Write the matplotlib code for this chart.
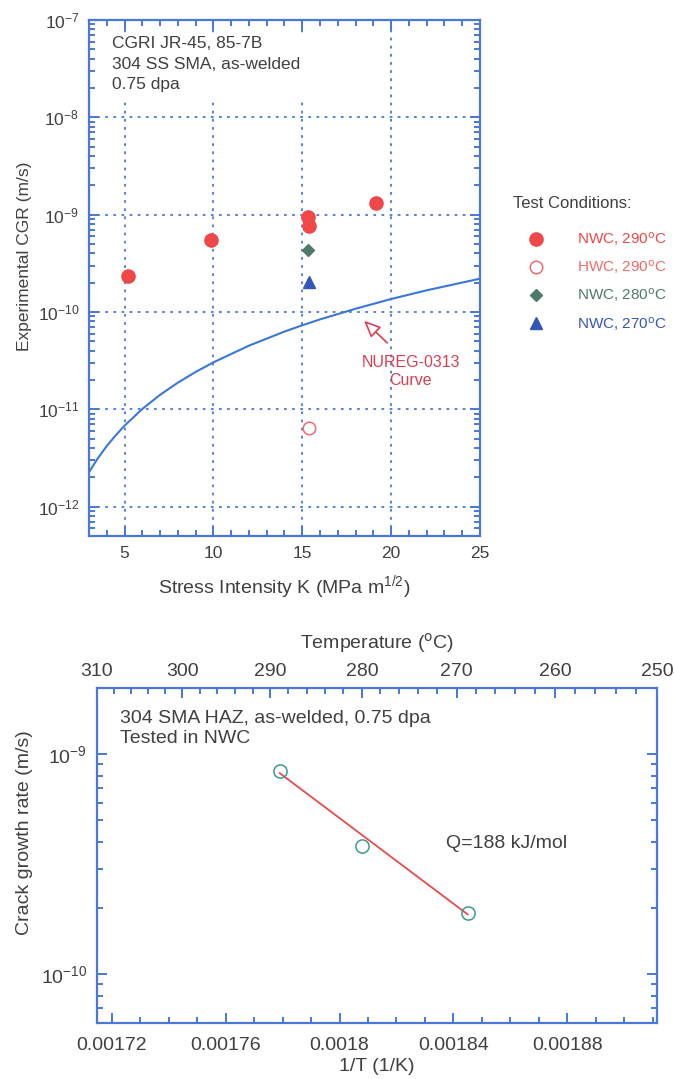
import numpy as np
import matplotlib
matplotlib.use('Agg')
import matplotlib.pyplot as plt
from matplotlib.ticker import FixedLocator, FuncFormatter, LogLocator, MultipleLocator, NullFormatter
from matplotlib.patches import Rectangle

plt.rcParams['font.family'] = ['Liberation Sans', 'DejaVu Sans']
plt.rcParams['mathtext.default'] = 'regular'

# K vs CGR data (top panel)
k_nwc290 = [5.2, 9.85, 15.3, 15.4, 19.15]
cgr_nwc290 = [2.35e-10, 5.5e-10, 9.5e-10, 7.6e-10, 1.33e-9]
k_hwc290 = [15.4]
cgr_hwc290 = [6.4e-12]
k_nwc280 = [15.3]
cgr_nwc280 = [4.3e-10]
k_nwc270 = [15.4]
cgr_nwc270 = [2.05e-10]

# NUREG-0313 curve
k_nureg = [3, 3.5, 4, 4.5, 5, 6, 7, 8, 9, 10, 12, 14, 15, 16, 18, 20, 22, 25]
cgr_nureg = [2.26e-12, 3.15e-12, 4.2e-12, 5.4e-12, 6.8e-12, 1.01e-11, 1.41e-11,
             1.88e-11, 2.42e-11, 3.04e-11, 4.51e-11, 6.3e-11, 7.3e-11, 8.4e-11,
             1.08e-10, 1.36e-10, 1.67e-10, 2.2e-10]

# Arrhenius data (bottom panel)
inv_t = [0.001779, 0.001808, 0.001845]
cgr_haz = [8.4e-10, 3.84e-10, 1.89e-10]
fit_x = [0.001779, 0.001845]
fit_y = [8.2e-10, 1.87e-10]
temps_major = [310, 300, 290, 280, 270, 260, 250]

AXC = '#4a78d8'
TXT = '#404040'
RED = '#f04848'
HWC = '#f06a6a'
GRN = '#4f7a6a'
BLU = '#3356b8'


def sci(v, pos):
    e = int(round(np.log10(v)))
    return r'$10^{%d}$' % e


def style_axis(ax, size):
    for s in ax.spines.values():
        s.set_color(AXC)
        s.set_linewidth(1.6)
    ax.tick_params(which='both', direction='in', color=AXC, width=1.4,
                   labelcolor=TXT, labelsize=size, top=True, right=True, pad=7)
    ax.tick_params(which='major', length=7)
    ax.tick_params(which='minor', length=4)


fig = plt.figure(figsize=(6.74, 10.79), dpi=100)

# ---- top panel
ax = fig.add_axes([0.132, 0.5032, 0.580, 0.4783])
ax.plot(k_nureg, cgr_nureg, color='#3a78d8', lw=1.5, zorder=2)
h1, = ax.plot(k_nwc290, cgr_nwc290, 'o', ms=9.5, mfc=RED, mec=RED, ls='none', zorder=3)
h2, = ax.plot(k_hwc290, cgr_hwc290, 'o', ms=9, mfc='white', mec=HWC, mew=1.1, ls='none', zorder=3)
h3, = ax.plot(k_nwc280, cgr_nwc280, 'D', ms=6.5, mfc=GRN, mec=GRN, ls='none', zorder=3)
h4, = ax.plot(k_nwc270, cgr_nwc270, '^', ms=9, mfc=BLU, mec=BLU, ls='none', zorder=3)
ax.set_yscale('log')
ax.set_xlim(3, 25)
ax.set_ylim(5e-13, 1e-7)
ax.xaxis.set_major_locator(MultipleLocator(5))
ax.xaxis.set_minor_locator(MultipleLocator(1))
ax.yaxis.set_major_locator(LogLocator(base=10, numticks=20))
ax.yaxis.set_minor_locator(LogLocator(base=10, subs=np.arange(2, 10), numticks=20))
ax.yaxis.set_major_formatter(FuncFormatter(sci))
ax.yaxis.set_minor_formatter(NullFormatter())
style_axis(ax, 12.5)
ax.set_axisbelow(True)
ax.grid(True, which='major', color=AXC, ls=(0, (1.5, 3)), lw=1.3)
# blank patch behind the header text (grid hidden there)
ax.add_patch(Rectangle((0.025, 0.845), 0.54, 0.128, transform=ax.transAxes,
                       facecolor='white', edgecolor='none', zorder=1))
ax.set_xlabel('Stress Intensity K (MPa m$^{1/2}$)', fontsize=14, color=TXT, labelpad=9)
ax.set_ylabel('Experimental CGR (m/s)', fontsize=12.5, color=TXT)
ax.yaxis.set_label_coords(-0.146, 0.543)
ax.text(0.059, 0.968, 'CGRI JR-45, 85-7B\n304 SS SMA, as-welded\n0.75 dpa',
        transform=ax.transAxes, ha='left', va='top', fontsize=12.5, color=TXT,
        linespacing=1.45, zorder=4)
ax.annotate('', xy=(18.37, 8.5e-11), xytext=(19.9, 4.6e-11),
            arrowprops=dict(arrowstyle='-|>,head_length=1.0,head_width=0.45',
                            fc='white', ec='#d84050', lw=1.2))
ax.text(21.1, 2.45e-11, 'NUREG-0313\nCurve', ha='center', va='center',
        fontsize=11.5, color='#d84050', linespacing=1.2)

labels = ['NWC, 290$^{\\rm o}$C', 'HWC, 290$^{\\rm o}$C',
          'NWC, 280$^{\\rm o}$C', 'NWC, 270$^{\\rm o}$C']
fig.text(513 / 674, 1 - 204 / 1079, 'Test Conditions:', ha='left', va='center',
         fontsize=12, color=TXT)
leg = fig.legend([h1, h2, h3, h4], labels, loc='upper left',
                 bbox_to_anchor=(529 / 674, 1 - 230 / 1079), frameon=False,
                 fontsize=11, labelcolor=[RED, HWC, GRN, BLU],
                 handlelength=0.95, handletextpad=2.2, labelspacing=0.68,
                 borderaxespad=0, borderpad=0)

# ---- bottom panel
bx = fig.add_axes([0.1439, 0.0519, 0.8309, 0.3105])
bx.plot(fit_x, fit_y, color='#f04848', lw=1.3, zorder=2)
bx.plot(inv_t, cgr_haz, 'o', ms=9.5, mfc='none', mec='#3e9a8a', mew=1.1, ls='none', zorder=3)
bx.set_yscale('log')
x0, x1 = 1 / (310 + 273.15), 1 / (250 + 273.15)
bx.set_xlim(x0, x1)
bx.set_ylim(6e-11, 2e-9)
bx.xaxis.set_major_locator(FixedLocator([0.00172, 0.00176, 0.0018, 0.00184, 0.00188]))
bx.xaxis.set_minor_locator(MultipleLocator(0.00001))
bx.xaxis.set_major_formatter(FuncFormatter(lambda v, p: ('%.5f' % v).rstrip('0')))
bx.yaxis.set_major_locator(LogLocator(base=10, numticks=20))
bx.yaxis.set_minor_locator(LogLocator(base=10, subs=np.arange(2, 10), numticks=20))
bx.yaxis.set_major_formatter(FuncFormatter(sci))
bx.yaxis.set_minor_formatter(NullFormatter())
style_axis(bx, 14)
bx.tick_params(top=False)
bx.tick_params(axis='x', pad=10)
bx.set_xlabel('1/T (1/K)', fontsize=14, color=TXT, labelpad=3)
bx.set_ylabel('Crack growth rate (m/s)', fontsize=14, color=TXT)
bx.yaxis.set_label_coords(-0.114, 0.567)
bx.text(0.041, 0.933, '304 SMA HAZ, as-welded, 0.75 dpa\nTested in NWC',
        transform=bx.transAxes, ha='left', va='top', fontsize=14, color=TXT,
        linespacing=1.2)
bx.text(0.0018375, 3.92e-10, 'Q=188 kJ/mol', ha='left', va='center', fontsize=14, color=TXT)

# temperature scale on top
tx = bx.twiny()
tx.set_xlim(x0, x1)
tx.set_xticks([1 / (t + 273.15) for t in temps_major])
tx.set_xticklabels([str(t) for t in temps_major])
tx.set_xticks([1 / (t + 273.15) for t in range(250, 311, 2)], minor=True)
tx.yaxis.set_visible(False)
for s in tx.spines.values():
    s.set_visible(False)
tx.tick_params(which='both', direction='in', color=AXC, width=1.4,
               labelcolor=TXT, labelsize=14, pad=6)
tx.tick_params(which='major', length=7)
tx.tick_params(which='minor', length=4)
tx.set_xlabel('Temperature ($^{\\rm o}$C)', fontsize=14, color=TXT, labelpad=10)

fig.savefig('out.png', dpi=100)
